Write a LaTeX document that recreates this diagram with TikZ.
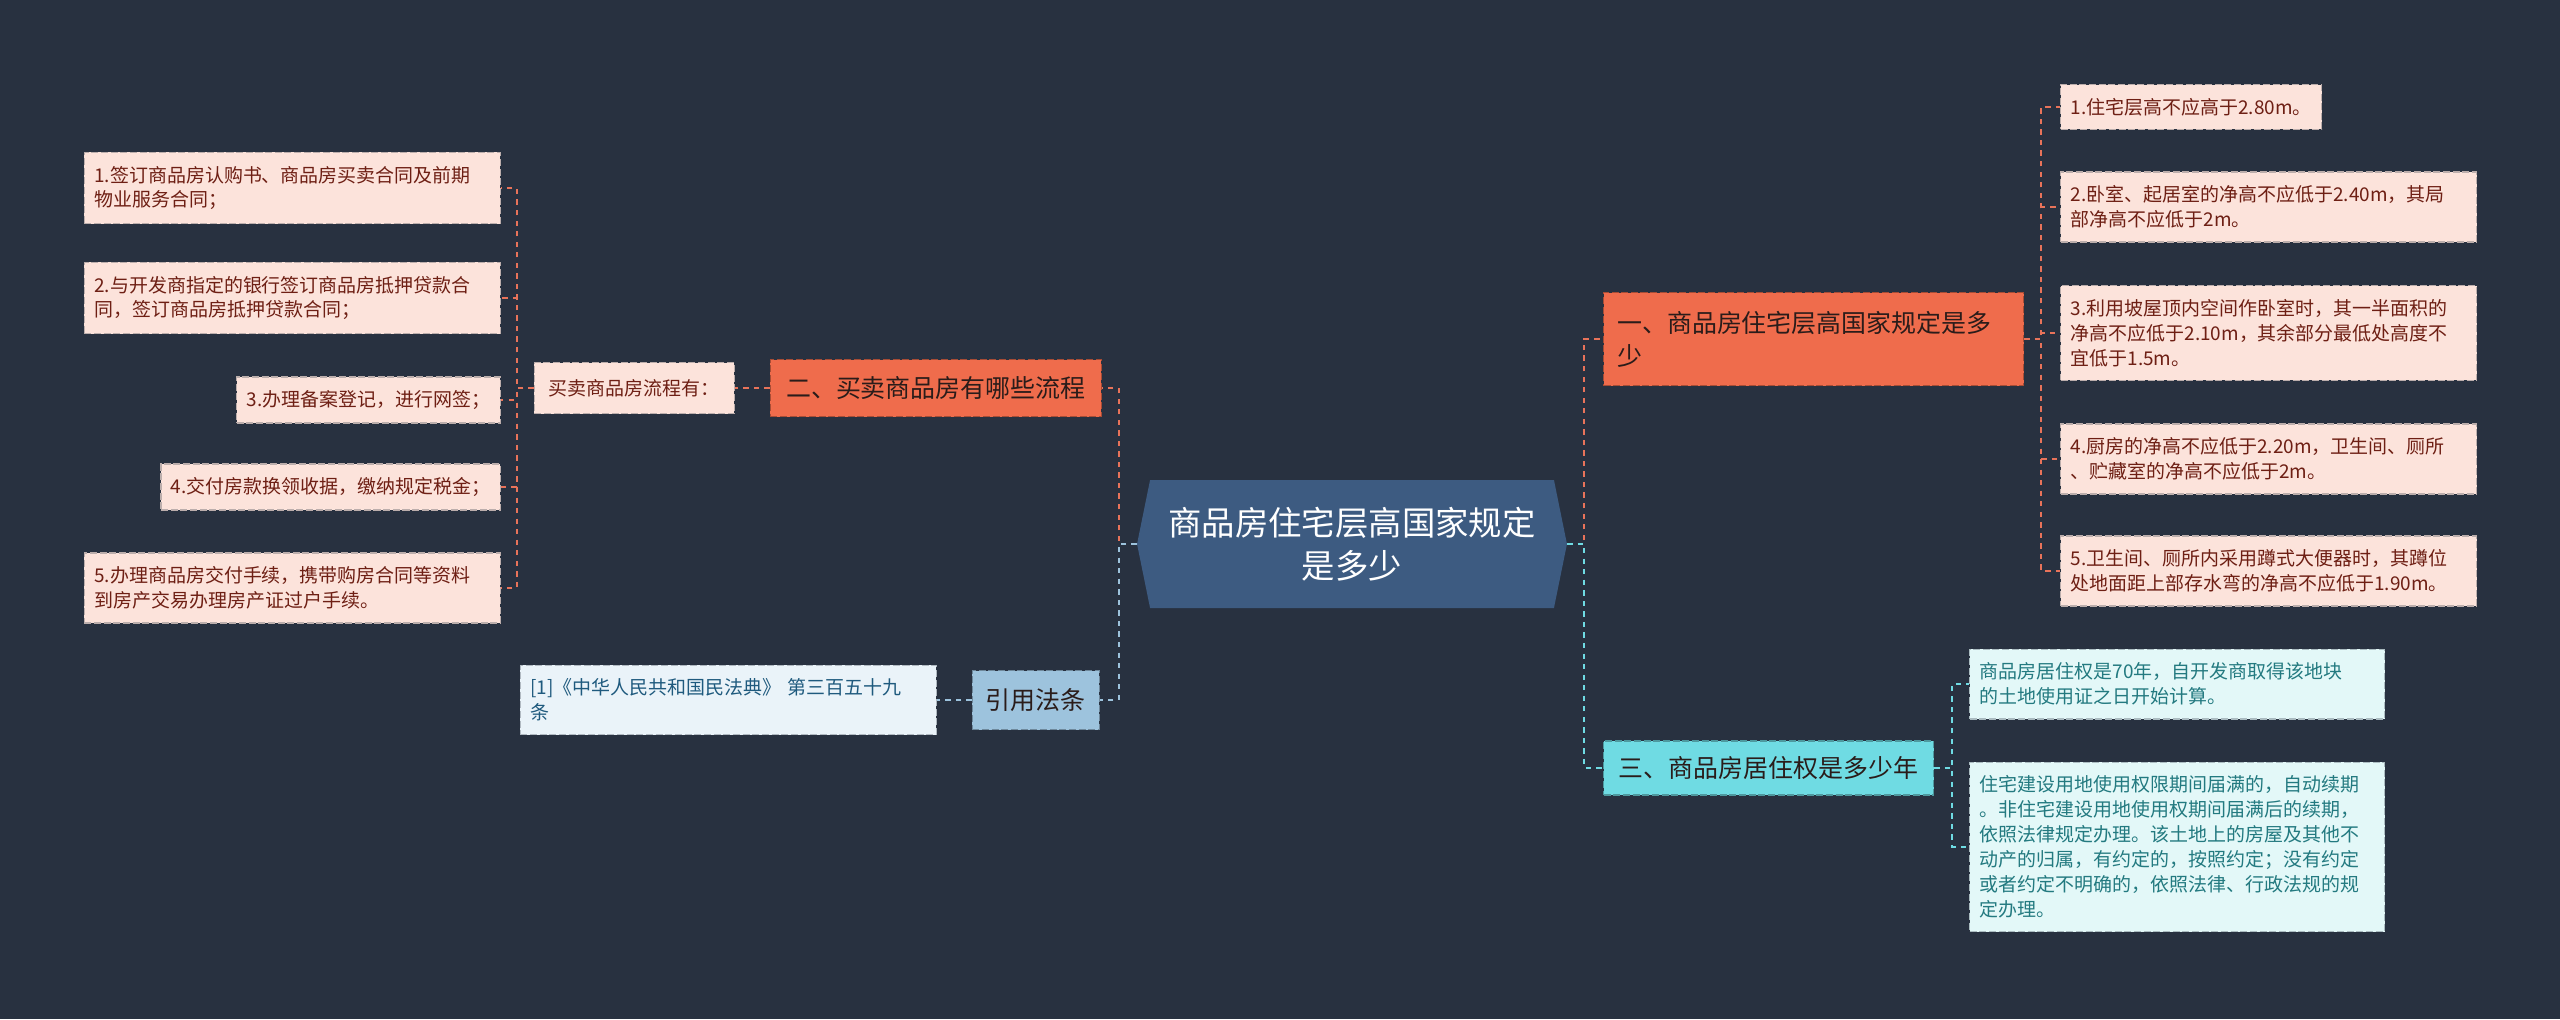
\documentclass[tikz,border=0pt]{standalone}
\usepackage{fontspec}
\setmainfont{Noto Sans CJK SC}
\usetikzlibrary{shapes.symbols}
\usepackage{xcolor}
\definecolor{MapBg}{HTML}{283140}
\definecolor{RootBlue}{HTML}{3D5B81}
\definecolor{TopicOrange}{HTML}{EF6C4C}
\definecolor{TopicCyan}{HTML}{6FDBE3}
\definecolor{TopicBlue}{HTML}{9DC3DD}
\definecolor{LeafPink}{HTML}{FCE3DB}
\definecolor{LeafCyan}{HTML}{E3F8F8}
\definecolor{LeafBlue}{HTML}{EAF3F9}
\definecolor{TextRed}{HTML}{6E1F14}
\definecolor{TextDark}{HTML}{2A1C1A}
\definecolor{TextTeal}{HTML}{237A80}
\definecolor{TextBlue}{HTML}{1F5A7E}
\definecolor{LineOrange}{HTML}{E8735A}
\definecolor{LineCyan}{HTML}{6FDBE3}
\definecolor{LineBlue}{HTML}{9DC3DD}
\newcommand{\leaffont}{\fontsize{10.8}{14.2}\selectfont}
\newcommand{\topicfont}{\fontsize{14.2}{18.8}\selectfont}
\newcommand{\rootfont}{\fontsize{19}{24.6}\selectfont}
\tikzset{
    % box styles - dashed borders
    leaf/.style={
        rectangle,
        draw=#1!70!MapBg,
        fill=#1,
        line width=0.8pt,
        dash pattern=on 4pt off 1.5pt,
        align=left,
        inner xsep=0.2cm,
        inner ysep=0.27cm,
        font=\leaffont
    },
    topic/.style={
        rectangle,
        draw=#1!70!black,
        fill=#1,
        line width=0.8pt,
        dash pattern=on 4pt off 1.5pt,
        align=left,
        inner xsep=0.27cm,
        font=\topicfont
    },
    rootnode/.style={
        signal,
        signal to=west and east,
        signal pointer angle=157,
        fill=RootBlue,
        text=white,
        align=center,
        minimum width=8.6cm,
        minimum height=2.56cm,
        font=\rootfont
    },
    % connector styles - dashed elbows
    link/.style={
        line width=1.1pt,
        draw=#1,
        dash pattern=on 3pt off 3pt
    }
}
\begin{document}
\begin{tikzpicture}[x=0.02cm, y=-0.02cm]
    \fill[MapBg] (0,0) rectangle (2560,1019);
    \useasboundingbox (0,0) rectangle (2560,1019);

    % centre
    \node[rootnode] (root) at (1352,544) {商品房住宅层高国家规定\\是多少};

    % left: buying process
    \node[topic=TopicOrange, text=TextDark, minimum width=6.62cm, minimum height=1.14cm, anchor=east] (buy) at (1102,388) {二、买卖商品房有哪些流程};
    \node[leaf=LeafPink, text=TextRed, minimum width=4cm, minimum height=1.02cm, anchor=east] (flow) at (735,388) {买卖商品房流程有：};
    \node[leaf=LeafPink, text=TextRed, text width=7.92cm, anchor=east] (s1) at (501,188) {1.签订商品房认购书、商品房买卖合同及前期\\物业服务合同；};
    \node[leaf=LeafPink, text=TextRed, text width=7.92cm, anchor=east] (s2) at (501,298) {2.与开发商指定的银行签订商品房抵押贷款合\\同，签订商品房抵押贷款合同；};
    \node[leaf=LeafPink, text=TextRed, anchor=east] (s3) at (501,400) {3.办理备案登记，进行网签；};
    \node[leaf=LeafPink, text=TextRed, anchor=east] (s4) at (501,487) {4.交付房款换领收据，缴纳规定税金；};
    \node[leaf=LeafPink, text=TextRed, text width=7.92cm, anchor=east] (s5) at (501,588) {5.办理商品房交付手续，携带购房合同等资料\\到房产交易办理房产证过户手续。};

    % left: cited law
    \node[topic=TopicBlue, text=TextDark, minimum width=2.54cm, minimum height=1.18cm, anchor=east] (cite) at (1100,700) {引用法条};
    \node[leaf=LeafBlue, text=TextBlue, text width=7.92cm, anchor=east] (law) at (937,700) {[1]《中华人民共和国民法典》 第三百五十九\\条};

    % right: storey height
    \node[topic=TopicOrange, text=TextDark, text width=7.86cm, minimum height=1.86cm, anchor=west] (height) at (1603,339) {一、商品房住宅层高国家规定是多\\少};
    \node[leaf=LeafPink, text=TextRed, anchor=west] (h1) at (2060,107) {1.住宅层高不应高于2.80m。};
    \node[leaf=LeafPink, text=TextRed, text width=7.92cm, anchor=west] (h2) at (2060,207) {2.卧室、起居室的净高不应低于2.40m，其局\\部净高不应低于2m。};
    \node[leaf=LeafPink, text=TextRed, text width=7.92cm, anchor=west] (h3) at (2060,333) {3.利用坡屋顶内空间作卧室时，其一半面积的\\净高不应低于2.10m，其余部分最低处高度不\\宜低于1.5m。};
    \node[leaf=LeafPink, text=TextRed, text width=7.92cm, anchor=west] (h4) at (2060,459) {4.厨房的净高不应低于2.20m，卫生间、厕所\\、贮藏室的净高不应低于2m。};
    \node[leaf=LeafPink, text=TextRed, text width=7.92cm, anchor=west] (h5) at (2060,571) {5.卫生间、厕所内采用蹲式大便器时，其蹲位\\处地面距上部存水弯的净高不应低于1.90m。};

    % right: right of residence
    \node[topic=TopicCyan, text=TextDark, minimum width=6.6cm, minimum height=1.08cm, anchor=west] (years) at (1603,768) {三、商品房居住权是多少年};
    \node[leaf=LeafCyan, text=TextTeal, text width=7.9cm, anchor=west] (y1) at (1969,684) {商品房居住权是70年，自开发商取得该地块\\的土地使用证之日开始计算。};
    \node[leaf=LeafCyan, text=TextTeal, text width=7.9cm, anchor=west] (y2) at (1969,847) {住宅建设用地使用权限期间届满的，自动续期\\。非住宅建设用地使用权期间届满后的续期，\\依照法律规定办理。该土地上的房屋及其他不\\动产的归属，有约定的，按照约定；没有约定\\或者约定不明确的，依照法律、行政法规的规\\定办理。};

    % connectors
    \draw[link=LineOrange] (root.west) -- ++(-18,0) |- (buy.east);
    \draw[link=LineBlue] (root.west) -- ++(-18,0) |- (cite.east);
    \draw[link=LineOrange] (root.east) -- ++(17,0) |- (height.west);
    \draw[link=LineCyan] (root.east) -- ++(17,0) |- (years.west);
    \draw[link=LineOrange] (buy.west) -- (flow.east);
    \draw[link=LineBlue] (cite.west) -- (law.east);
    \foreach \s in {s1,s2,s3,s4,s5}
        \draw[link=LineOrange] (flow.west) -- ++(-17,0) |- (\s.east);
    \foreach \h in {h1,h2,h3,h4,h5}
        \draw[link=LineOrange] (height.east) -- ++(17,0) |- (\h.west);
    \foreach \y in {y1,y2}
        \draw[link=LineCyan] (years.east) -- ++(18,0) |- (\y.west);
\end{tikzpicture}
\end{document}
